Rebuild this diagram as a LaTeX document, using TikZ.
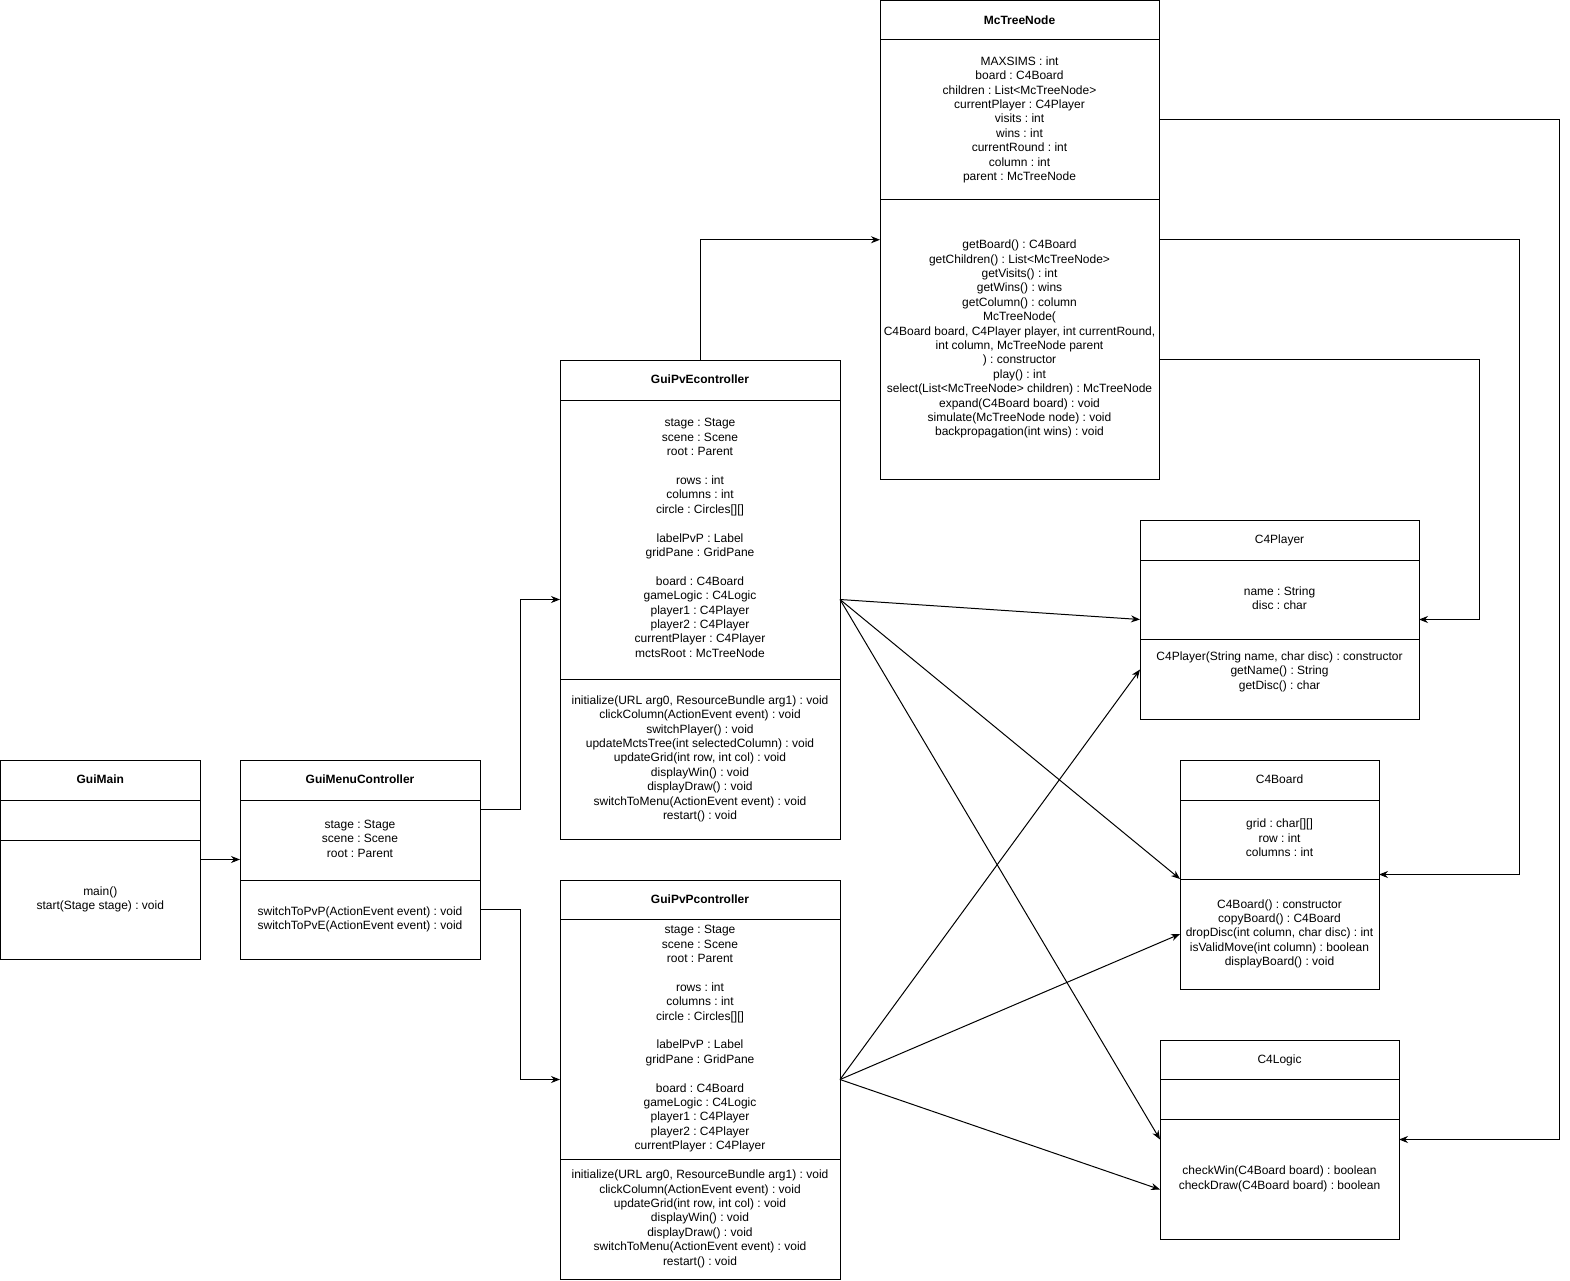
\documentclass[tikz,border=0pt]{standalone}
\usepackage{fontspec}
\setmainfont{Liberation Sans}
\usetikzlibrary{arrows.meta,calc}
\frenchspacing
\newcommand{\umlstrut}{\rule[-3.9pt]{0pt}{15.4pt}}
\newcommand{\umlbodystrut}{\rule[-3pt]{0pt}{19.1pt}}
\newcommand{\umlpart}[6]{\node[comp, minimum width=#4pt, minimum height=#5pt, anchor=north west] (#1) at (#2,#3) {#6};}
\newcommand{\umlhead}[6]{\node[comphead, minimum width=#4pt, minimum height=#5pt, anchor=north west] (#1) at (#2,#3) {#6};}
\newcommand{\umlclass}[5]{\node[classarea, minimum width=#4pt, minimum height=#5pt, anchor=north west] (#1) at (#2,#3) {};}
\begin{document}
\begin{tikzpicture}[x=1pt,y=-1pt,
  font=\fontsize{12}{14.4}\selectfont,
  compbase/.style={draw=black, line width=1pt, inner sep=0pt, outer sep=0pt, align=center},
  comphead/.style={compbase, execute at begin node=\umlstrut, execute at end node=\umlstrut},
  comp/.style={compbase, execute at begin node=\umlbodystrut, execute at end node=\umlbodystrut},
  classarea/.style={inner sep=0pt, outer sep=0pt},
  conn/.style={draw=black, line width=1pt, -{Stealth[length=9pt,width=7pt]}}]
\useasboundingbox (0,0) rectangle (1570,1281);

% whole-class areas (for connector anchors)
\umlclass{gm}{0}{760}{200}{199}
\umlclass{gmc}{240}{760}{240}{199}
\umlclass{pe}{560}{360}{280}{479}
\umlclass{pp}{560}{880}{280}{399}
\umlclass{mt}{880}{0.5}{279}{478.5}
\umlclass{cp}{1140}{520}{279}{199}
\umlclass{cb}{1180}{760}{199}{229}
\umlclass{cl}{1160}{1040}{239}{199}

% GuiMain
\umlhead{gmH}{0.5}{760}{199.5}{40}{\textbf{GuiMain}}
\umlpart{gmA}{0.5}{800}{199.5}{40}{}
\umlpart{gmM}{0.5}{840}{199.5}{119}{main()\\start(Stage stage) : void}

% GuiMenuController
\umlhead{gmcH}{240}{760}{240}{40}{\textbf{GuiMenuController}}
\umlpart{gmcA}{240}{800}{240}{80}{stage : Stage\\scene : Scene\\root : Parent}
\umlpart{gmcM}{240}{880}{240}{79}{switchToPvP(ActionEvent event) : void\\switchToPvE(ActionEvent event) : void}

% GuiPvEcontroller
\umlhead{peH}{560}{360}{280}{40}{\textbf{GuiPvEcontroller}}
\umlpart{peA}{560}{400}{280}{279}{stage : Stage\\scene : Scene\\root : Parent\\[14.4pt]rows : int\\columns : int\\circle : Circles[][]\\[14.4pt]labelPvP : Label\\gridPane : GridPane\\[14.4pt]board : C4Board\\gameLogic : C4Logic\\player1 : C4Player\\player2 : C4Player\\currentPlayer : C4Player\\mctsRoot : McTreeNode}
\umlpart{peM}{560}{679}{280}{160}{initialize(URL arg0, ResourceBundle arg1) : void\\clickColumn(ActionEvent event) : void\\switchPlayer() : void\\updateMctsTree(int selectedColumn) : void\\updateGrid(int row, int col) : void\\displayWin() : void\\displayDraw() : void\\switchToMenu(ActionEvent event) : void\\restart() : void}

% GuiPvPcontroller
\umlhead{ppH}{560}{880}{280}{39}{\textbf{GuiPvPcontroller}}
\umlpart{ppA}{560}{919}{280}{240}{stage : Stage\\scene : Scene\\root : Parent\\[14.4pt]rows : int\\columns : int\\circle : Circles[][]\\[14.4pt]labelPvP : Label\\gridPane : GridPane\\[14.4pt]board : C4Board\\gameLogic : C4Logic\\player1 : C4Player\\player2 : C4Player\\currentPlayer : C4Player}
\umlpart{ppM}{560}{1159}{280}{120}{initialize(URL arg0, ResourceBundle arg1) : void\\clickColumn(ActionEvent event) : void\\updateGrid(int row, int col) : void\\displayWin() : void\\displayDraw() : void\\switchToMenu(ActionEvent event) : void\\restart() : void}

% McTreeNode
\umlhead{mtH}{880}{0.5}{279}{39.5}{\textbf{McTreeNode}}
\umlpart{mtA}{880}{40}{279}{160}{MAXSIMS : int\\board : C4Board\\children : List<McTreeNode>\\currentPlayer : C4Player\\visits : int\\wins : int\\currentRound : int\\column : int\\parent : McTreeNode}
\umlpart{mtM}{880}{200}{279}{279}{getBoard() : C4Board\\getChildren() : List<McTreeNode>\\getVisits() : int\\getWins() : wins\\getColumn() : column\\McTreeNode(\\C4Board board, C4Player player, int currentRound,\\int column, McTreeNode parent\\) : constructor\\play() : int\\select(List<McTreeNode> children) : McTreeNode\\expand(C4Board board) : void\\simulate(McTreeNode node) : void\\backpropagation(int wins) : void}

% C4Player
\umlhead{cpH}{1140}{520}{279}{40}{C4Player}
\umlpart{cpA}{1140}{560}{279}{79}{name : String\\disc : char}
\umlpart{cpM}{1140}{639}{279}{80}{C4Player(String name, char disc) : constructor\\getName() : String\\getDisc() : char\\\mbox{}}

% C4Board
\umlhead{cbH}{1180}{760}{199}{40}{C4Board}
\umlpart{cbA}{1180}{800}{199}{79}{grid : char[][]\\row : int\\columns : int}
\umlpart{cbM}{1180}{879}{199}{110}{C4Board() : constructor\\copyBoard() : C4Board\\dropDisc(int column, char disc) : int\\isValidMove(int column) : boolean\\displayBoard() : void}

% C4Logic
\umlhead{clH}{1160}{1040}{239}{39}{C4Logic}
\umlpart{clA}{1160}{1079}{239}{40}{}
\umlpart{clM}{1160}{1119}{239}{120}{checkWin(C4Board board) : boolean\\checkDraw(C4Board board) : boolean}

% connectors
\draw[conn] (gm.east) -- (gmc.west);
\draw[conn] ($(gmc.east)+(0,-50)$) -- ++(40,0) |- (pe.west);
\draw[conn] ($(gmc.east)+(0,50)$) -- ++(40,0) |- (pp.west);
\draw[conn] (pe.north) |- (mt.west);
\draw[conn] ($(mt.east)+(0,-120)$) -- ++(400,0) |- (cl.east);
\draw[conn] (mt.east) -- ++(360,0) |- (cb.east);
\draw[conn] ($(mt.east)+(0,120)$) -- ++(320,0) |- (cp.east);
\draw[conn] (pe.east) -- (cp.west);
\draw[conn] (pe.east) -- (cbM.north west);
\draw[conn] (pe.east) -- (cl.west);
\draw[conn] (pp.east) -- ($(cp.west)+(0,50)$);
\draw[conn] (pp.east) -- (cbM.west);
\draw[conn] (pp.east) -- ($(cl.west)+(0,50)$);
\end{tikzpicture}
\end{document}
